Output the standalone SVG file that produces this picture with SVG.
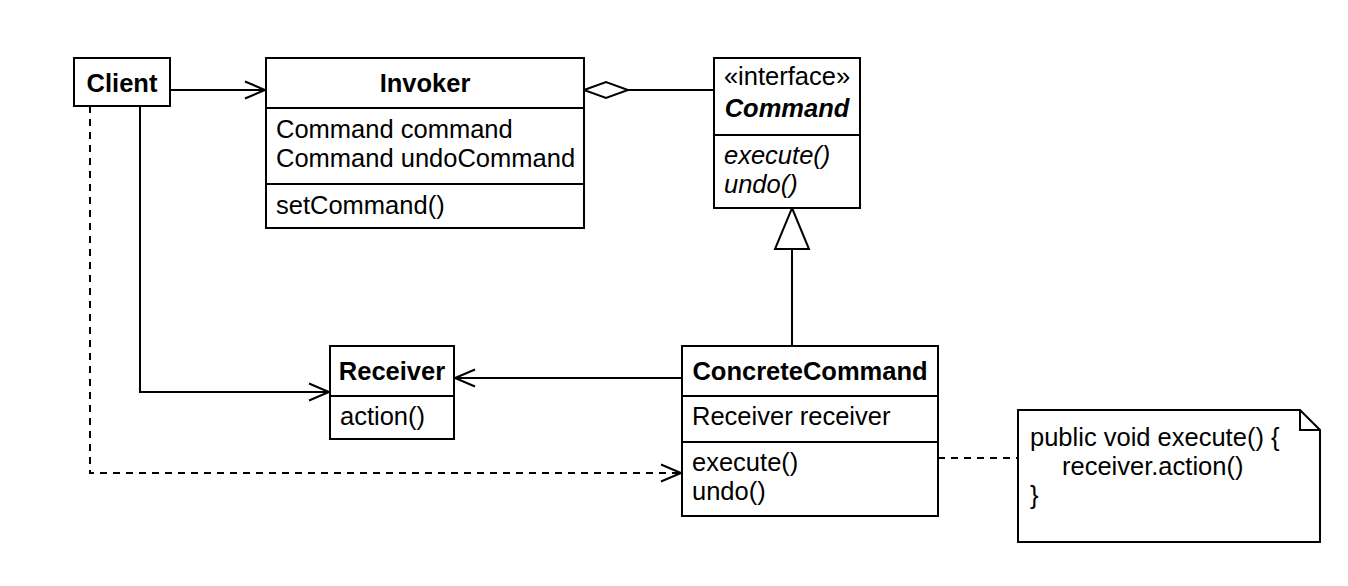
<svg xmlns="http://www.w3.org/2000/svg" width="1348" height="586" viewBox="0 0 1348 586">
  <style>
    .box { fill: #ffffff; stroke: #000000; stroke-width: 2; }
    .div { stroke: #000000; stroke-width: 2; }
    .edge { fill: none; stroke: #000000; stroke-width: 2; }
    .dash { stroke-dasharray: 7 6; }
    text { font-family: "Liberation Sans", Arial, sans-serif; font-size: 25.5px; fill: #000000; }
    .b { font-weight: bold; }
    .i { font-style: italic; }
    .c { text-anchor: middle; }
  </style>
  <defs>
    <marker id="open" markerUnits="userSpaceOnUse" markerWidth="24" markerHeight="20" viewBox="-22 -10 24 20" refX="0" refY="0" orient="auto">
      <path d="M-20,-8.5 L0,0 L-20,8.5" fill="none" stroke="#000" stroke-width="2"/>
    </marker>
  </defs>

  <rect width="1348" height="586" fill="#ffffff"/>

  <!-- connectors -->
  <g id="connectors">
    <!-- Client uses Invoker -->
    <path class="edge" d="M170,90 H265" marker-end="url(#open)"/>
    <!-- Invoker aggregates Command -->
    <path class="edge" d="M714,90 H628"/>
    <path class="edge" d="M584,90 L606,82 L628,90 L606,98 Z" fill="#ffffff"/>
    <!-- ConcreteCommand implements Command -->
    <path class="edge" d="M792,346 V249"/>
    <path class="edge" d="M792,208 L809,249 L775,249 Z" fill="#ffffff"/>
    <!-- ConcreteCommand calls Receiver -->
    <path class="edge" d="M682,378 H455" marker-end="url(#open)"/>
    <!-- Client creates Receiver -->
    <path class="edge" d="M140,106 V392 H329" marker-end="url(#open)"/>
    <!-- Client creates ConcreteCommand -->
    <path class="edge dash" d="M90,106 V473 H681" marker-end="url(#open)"/>
    <!-- note attachment -->
    <path class="edge dash" d="M938,458 H1018"/>
  </g>

  <g id="client">
    <rect class="box" x="74" y="58" width="96" height="48"/>
    <text class="b c" x="122" y="92">Client</text>
  </g>

  <g id="invoker">
    <rect class="box" x="266" y="58" width="318" height="170"/>
    <line class="div" x1="266" y1="108" x2="584" y2="108"/>
    <line class="div" x1="266" y1="184" x2="584" y2="184"/>
    <text class="b c" x="425" y="92">Invoker</text>
    <text x="276" y="138">Command command</text>
    <text x="276" y="167">Command undoCommand</text>
    <text x="276" y="214">setCommand()</text>
  </g>

  <g id="command">
    <rect class="box" x="714" y="58" width="146" height="150"/>
    <line class="div" x1="714" y1="135" x2="860" y2="135"/>
    <text class="c" x="787" y="85">«interface»</text>
    <text class="b i c" x="787" y="117">Command</text>
    <text class="i" x="724" y="164">execute()</text>
    <text class="i" x="724" y="193">undo()</text>
  </g>

  <g id="receiver">
    <rect class="box" x="330" y="346" width="124" height="93"/>
    <line class="div" x1="330" y1="396" x2="454" y2="396"/>
    <text class="b c" x="392" y="380">Receiver</text>
    <text x="340" y="425">action()</text>
  </g>

  <g id="concrete-command">
    <rect class="box" x="682" y="346" width="256" height="170"/>
    <line class="div" x1="682" y1="396" x2="938" y2="396"/>
    <line class="div" x1="682" y1="442" x2="938" y2="442"/>
    <text class="b c" x="810" y="380">ConcreteCommand</text>
    <text x="692" y="425">Receiver receiver</text>
    <text x="692" y="471">execute()</text>
    <text x="692" y="500">undo()</text>
  </g>

  <g id="note">
    <path class="box" d="M1018,410 H1300 L1320,430 V542 H1018 Z"/>
    <path class="edge" d="M1300,410 V430 H1320"/>
    <text x="1030" y="446">public void execute() {</text>
    <text x="1062" y="475">receiver.action()</text>
    <text x="1030" y="504">}</text>
  </g>
</svg>
